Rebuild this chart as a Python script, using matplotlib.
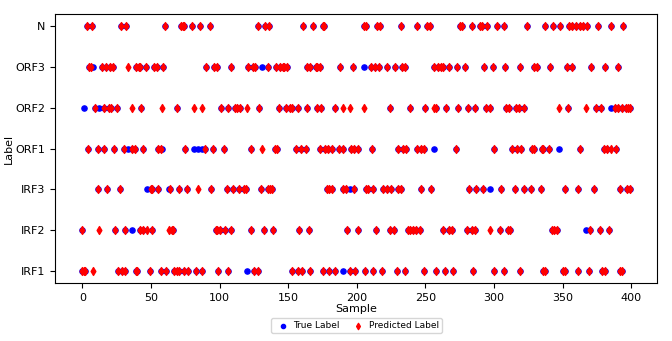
import matplotlib
matplotlib.use("Agg")
import matplotlib.pyplot as plt

# class order bottom -> top
classes = ["IRF1", "IRF2", "IRF3", "ORF1", "ORF2", "ORF3", "N"]

# sample indices per true class
true_N = [3, 7, 28, 32, 60, 72, 73, 74, 80, 86, 93, 128, 133, 136, 161, 168, 175, 176,
          205, 207, 215, 217, 232, 244, 251, 253, 275, 277, 284, 290, 291, 295, 302, 307,
          324, 337, 343, 348, 355, 357, 360, 363, 365, 368, 376, 385, 394]
true_ORF3 = [5, 6, 8, 14, 17, 20, 22, 39, 41, 42, 46, 52, 54, 59, 90, 96, 98, 108, 121, 124,
             126, 131, 135, 141, 144, 146, 147, 149, 164, 166, 170, 171, 173, 188, 197, 205,
             210, 213, 216, 222, 228, 233, 235, 256, 259, 261, 263, 267, 273, 279, 293, 299,
             308, 319, 329, 331, 341, 353, 357, 371, 381, 390]
true_ORF2 = [1, 9, 12, 16, 19, 21, 25, 43, 69, 101, 106, 111, 113, 115, 129, 143, 148, 151,
             153, 157, 164, 171, 174, 184, 224, 239, 250, 258, 265, 274, 281, 286, 294, 297,
             309, 311, 316, 318, 322, 354, 374, 378, 385, 388, 390, 393, 396, 398, 399]
true_ORF1 = [4, 11, 16, 23, 30, 33, 36, 38, 44, 55, 57, 58, 75, 81, 84, 87, 89, 95, 103, 123,
             140, 142, 156, 159, 163, 173, 177, 179, 182, 187, 190, 196, 198, 201, 211, 230,
             234, 236, 244, 247, 249, 256, 272, 300, 313, 317, 320, 328, 329, 335, 336, 340,
             347, 363, 380, 382, 389]
true_IRF3 = [11, 18, 27, 47, 50, 51, 55, 63, 64, 70, 76, 94, 105, 110, 114, 118, 119, 130,
             135, 137, 138, 178, 180, 182, 190, 192, 195, 198, 207, 208, 212, 219, 222, 225,
             230, 232, 247, 254, 282, 287, 292, 297, 305, 315, 322, 327, 334, 352, 361, 373,
             392, 397, 399]
true_IRF2 = [0, 24, 31, 36, 42, 44, 51, 65, 66, 97, 98, 100, 104, 108, 123, 132, 139, 158,
             165, 193, 201, 214, 224, 227, 237, 239, 241, 243, 246, 263, 267, 269, 280, 284,
             286, 304, 310, 312, 342, 344, 346, 367, 370, 377, 384]
true_IRF1 = [0, 2, 26, 29, 31, 39, 40, 49, 57, 61, 67, 69, 70, 74, 77, 83, 87, 99, 106, 120,
             125, 128, 153, 157, 160, 166, 175, 180, 184, 190, 195, 199, 206, 212, 218, 229,
             235, 249, 258, 264, 270, 285, 300, 307, 319, 336, 337, 350, 352, 361, 369, 379,
             381, 392, 393]

# misclassified samples: sample, true class, predicted class
mis_sample = [8, 131, 205, 1, 12, 385, 33, 58, 81, 84, 87, 256, 347, 47, 63, 195, 297, 36, 367, 120, 190]
mis_true = ["ORF3", "ORF3", "ORF3", "ORF2", "ORF2", "ORF2", "ORF1", "ORF1", "ORF1", "ORF1",
            "ORF1", "ORF1", "ORF1", "IRF3", "IRF3", "IRF3", "IRF3", "IRF2", "IRF2", "IRF1", "IRF1"]
mis_pred = ["IRF1", "ORF1", "ORF2", "IRF1", "IRF2", "ORF1", "ORF3", "ORF2", "ORF2", "IRF3",
            "ORF2", "ORF2", "ORF2", "IRF2", "IRF2", "ORF2", "IRF2", "ORF2", "ORF2", "ORF2", "ORF2"]

true_by_class = {"N": true_N, "ORF3": true_ORF3, "ORF2": true_ORF2, "ORF1": true_ORF1,
                 "IRF3": true_IRF3, "IRF2": true_IRF2, "IRF1": true_IRF1}
wrong = {(s, t): p for s, t, p in zip(mis_sample, mis_true, mis_pred)}

xs, y_true, y_pred = [], [], []
for c, samples in true_by_class.items():
    for s in samples:
        xs.append(s)
        y_true.append(classes.index(c))
        y_pred.append(classes.index(wrong.get((s, c), c)))

plt.rcParams["font.size"] = 8
fig, ax = plt.subplots(figsize=(6.72, 3.41), dpi=100)
fig.subplots_adjust(left=0.082, right=0.978, top=0.959, bottom=0.17)
ax.scatter(xs, y_true, color="blue", marker="o", s=14, label="True Label")
ax.scatter(xs, y_pred, color="red", marker="d", s=16, label="Predicted Label")
ax.set_yticks(range(len(classes)))
ax.set_yticklabels(classes)
ax.set_xlabel("Sample", labelpad=1)
ax.set_ylabel("Label")
ax.yaxis.set_label_coords(-0.068, 0.5)
ax.legend(loc="upper center", bbox_to_anchor=(0.5, -0.115), ncol=2, fontsize=6.5,
          markerscale=0.8, handletextpad=0.2, columnspacing=1.0, borderpad=0.3)
fig.savefig("out.png", dpi=100)
